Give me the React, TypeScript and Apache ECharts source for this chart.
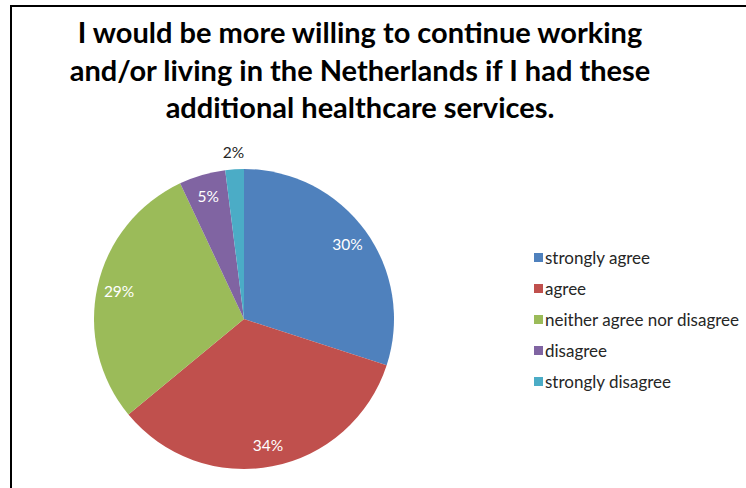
import React, { useEffect, useRef } from "react";
import * as echarts from "echarts";

const titleLines = [
  "I would be more willing to continue working",
  "and/or living in the Netherlands if I had these",
  "additional healthcare services.",
];
const categories = [
  "strongly agree",
  "agree",
  "neither agree nor disagree",
  "disagree",
  "strongly disagree",
];
const values = [30, 34, 29, 5, 2];
const colors = ["#4F81BD", "#C0504D", "#9BBB59", "#8064A2", "#4BACC6"];

const FONT = "Lato, 'Open Sans', sans-serif";

export default function App() {
  const ref = useRef<HTMLDivElement>(null);
  useEffect(() => {
    if (!ref.current) return;
    const chart = echarts.init(ref.current, null, { renderer: "svg" });
    const center = [244, 319];
    const R = 150;
    const mainData = categories.map((n, i) => ({
      name: n,
      value: values[i],
      itemStyle: { color: colors[i] },
    }));
    const insideData = categories.map((n, i) => ({
      name: n,
      value: values[i],
      label: { show: values[i] >= 5 },
    }));
    const outsideData = categories.map((n, i) => ({
      name: n,
      value: values[i],
      label: { show: values[i] < 5 },
    }));
    chart.setOption({
      animation: false,
      backgroundColor: "#ffffff",
      title: {
        text: titleLines.join("\n"),
        left: 355,
        textAlign: "center",
        top: 8,
        textStyle: {
          fontFamily: FONT,
          fontWeight: "bold",
          fontSize: 29,
          lineHeight: 37.5,
          color: "#000000",
        },
      },
      legend: {
        orient: "vertical",
        left: 529,
        top: 244,
        itemWidth: 9,
        itemHeight: 9,
        itemGap: 14,
        icon: "rect",
        data: categories,
        textStyle: { fontFamily: FONT, fontSize: 17, color: "#262626", padding: [0, 0, 0, -3] },
      },
      graphic: [
        {
          type: "rect",
          shape: { x: 11, y: 6, width: 760, height: 500 },
          style: { fill: "none", stroke: "#000000", lineWidth: 2 },
          silent: true,
        },
      ],
      series: [
        {
          type: "pie",
          center,
          radius: [0, R],
          startAngle: 90,
          clockwise: true,
          label: { show: false },
          labelLine: { show: false },
          itemStyle: { borderWidth: 0 },
          emphasis: { disabled: true },
          data: mainData,
        },
        {
          type: "pie",
          center,
          radius: [100, R],
          startAngle: 90,
          clockwise: true,
          silent: true,
          legendHoverLink: false,
          itemStyle: { color: "rgba(0,0,0,0)", borderWidth: 0 },
          label: {
            position: "inside",
            formatter: "{d}%",
            fontFamily: FONT,
            fontSize: 15.5,
            color: "#ffffff",
          },
          labelLine: { show: false },
          emphasis: { disabled: true },
          data: insideData,
        },
        {
          type: "pie",
          center,
          radius: [R, R + 28],
          startAngle: 90,
          clockwise: true,
          silent: true,
          legendHoverLink: false,
          itemStyle: { color: "rgba(0,0,0,0)", borderWidth: 0 },
          label: {
            position: "inside",
            formatter: "{d}%",
            fontFamily: FONT,
            fontSize: 15.5,
            color: "#262626",
          },
          labelLine: { show: false },
          emphasis: { disabled: true },
          data: outsideData,
        },
      ],
    });
    return () => chart.dispose();
  }, []);
  return (
    <div
      ref={ref}
      style={{ position: "fixed", left: 0, top: 0, width: 746, height: 488 }}
    />
  );
}
